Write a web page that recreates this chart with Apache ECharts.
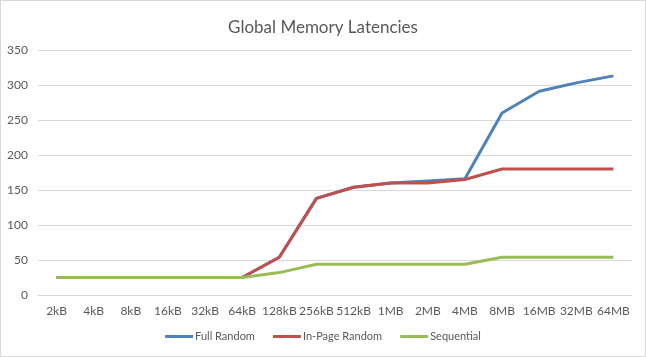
<!DOCTYPE html>
<html><head><meta charset="utf-8">
<script src="https://cdn.jsdelivr.net/npm/echarts@6/dist/echarts.min.js"></script>
<style>html,body{margin:0;padding:0;background:#fff}#c{width:646px;height:357px;box-sizing:border-box;border:1px solid #d9d9d9}</style>
</head><body><div id="c"></div>
<script>
const categories = ['2kB','4kB','8kB','16kB','32kB','64kB','128kB','256kB','512kB','1MB','2MB','4MB','8MB','16MB','32MB','64MB'];
const fullRandom   = [25,25,25,25,25,25,54,138,154,160,163,166,260,291,303,313];
const inPageRandom = [25,25,25,25,25,25,54,138,154,160,160,165,180,180,180,180];
const sequential   = [25,25,25,25,25,25,32,44,44,44,44,44,54,54,54,54];
const seriesNames = ['Full Random','In-Page Random','Sequential'];
const colors = ['#4F81BD','#C0504D','#9BBB59'];
const font = 'Lato, "Open Sans", sans-serif';
const chart = echarts.init(document.getElementById('c'), null, {renderer:'canvas'});
const mk = (name, data, color) => ({
  name, type:'line', data, symbol:'none', smooth:false,
  lineStyle:{color, width:3}, itemStyle:{color}, animation:false
});
chart.setOption({
  animation:false,
  title:{text:'Global Memory Latencies', left:'center', top:13,
    textStyle:{fontFamily:font, fontSize:17, fontWeight:'normal', color:'#595959'}},
  grid:{left:37, right:13, top:49, bottom:61, containLabel:false},
  legend:{top:325, left:'center', itemWidth:28, itemHeight:3, itemGap:18, icon:'rect',
    textStyle:{fontFamily:font, fontSize:11, color:'#595959', padding:[0,0,0,-3]},
    data:seriesNames},
  xAxis:{type:'category', data:categories, boundaryGap:true,
    axisLine:{lineStyle:{color:'#d9d9d9'}}, axisTick:{show:false},
    axisLabel:{fontFamily:font, fontSize:12, color:'#595959', margin:10, interval:0}},
  yAxis:{type:'value', min:0, max:350, interval:50,
    axisLine:{show:false}, axisTick:{show:false},
    splitLine:{lineStyle:{color:'#d9d9d9'}},
    axisLabel:{fontFamily:font, fontSize:12, color:'#595959', margin:10}},
  series:[mk(seriesNames[0], fullRandom, colors[0]), mk(seriesNames[1], inPageRandom, colors[1]), mk(seriesNames[2], sequential, colors[2])]
});
</script></body></html>
